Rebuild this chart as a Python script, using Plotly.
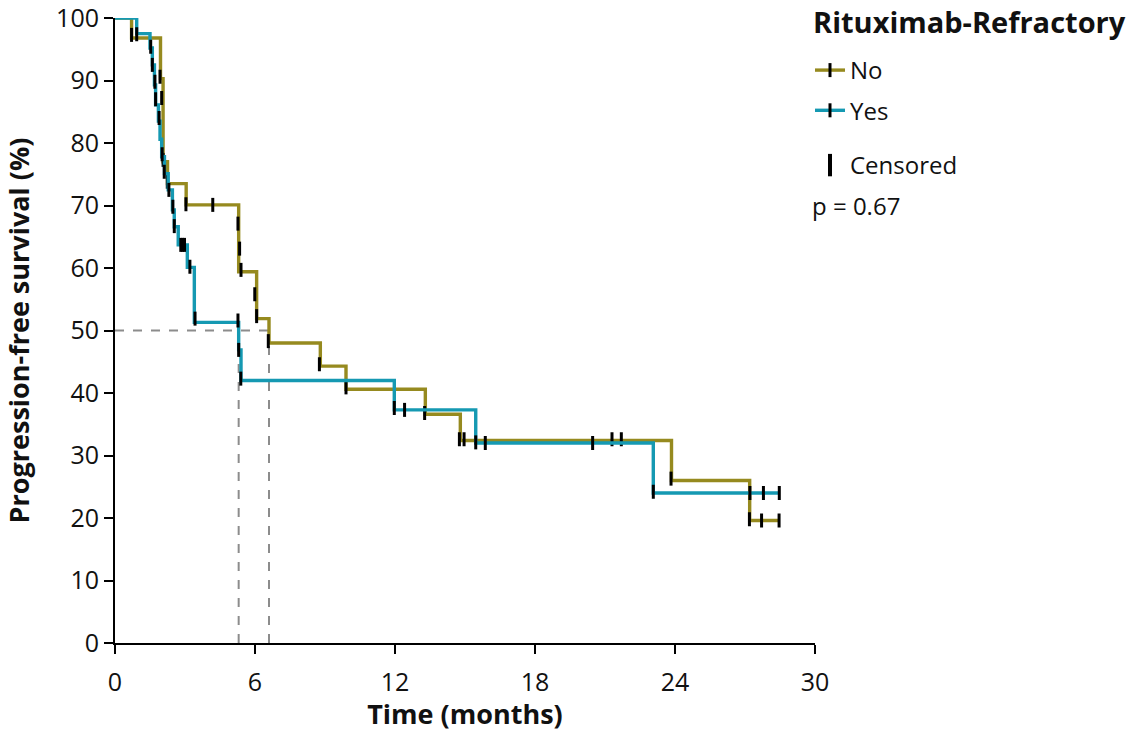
import plotly.graph_objects as go

# ---- data ----
no_times = [0, 0.71, 1.95, 2.06, 2.25, 3.05, 5.3, 6.07, 6.6, 8.8, 9.9, 13.3, 14.8, 23.85, 27.2, 28.5]
no_surv = [100, 96.8, 90.3, 77.0, 73.5, 70.1, 59.4, 51.9, 48.0, 44.3, 40.6, 36.6, 32.4, 26.0, 19.6, 19.6]

yes_times = [0, 0.93, 1.5, 1.6, 1.69, 1.74, 1.86, 1.93, 2.0, 2.12, 2.28, 2.46, 2.54, 2.71,
             3.1, 3.4, 5.3, 5.4, 11.97, 15.46, 23.07, 28.5]
yes_surv = [100, 97.5, 95.2, 92.5, 89.3, 86.1, 83.5, 80.6, 77.8, 75.1, 72.5, 69.3, 66.6, 63.7,
            60.1, 51.3, 46.9, 42.0, 37.3, 32.0, 24.0, 24.0]

no_cens_t = [0.71, 1.93, 2.0, 2.06, 2.24, 3.04, 4.19, 5.27, 5.34, 5.4, 5.99, 6.07, 6.57, 8.76,
             9.9, 13.27, 14.76, 14.96, 21.3, 21.7, 23.83, 27.19, 27.71, 28.46]
no_cens_s = [97.3, 90.6, 87.2, 77.3, 73.8, 70.2, 70.1, 67.1, 63.1, 59.7, 55.8, 52.3, 48.3, 44.6,
             40.9, 36.8, 32.6, 32.6, 32.6, 32.6, 26.3, 19.8, 19.6, 19.6]

yes_cens_t = [0.93, 1.53, 1.6, 1.71, 1.74, 1.89, 2.02, 2.11, 2.31, 2.48, 2.54, 2.82, 2.9, 2.98,
              3.21, 3.43, 5.27, 5.3, 5.39, 11.97, 12.41, 15.46, 15.87, 20.47, 23.07, 27.21,
              27.79, 28.47]
yes_cens_s = [97.4, 95.4, 92.5, 89.8, 87.0, 84.0, 78.2, 75.4, 72.5, 69.8, 66.7, 63.7, 63.7, 63.7,
              60.2, 51.9, 51.6, 46.9, 42.3, 37.6, 37.3, 32.1, 32.0, 32.0, 24.2, 24.0, 24.0, 24.0]

medians = {"No": 6.6, "Yes": 5.3}
x_ticks = [0, 6, 12, 18, 24, 30]
y_ticks = [0, 10, 20, 30, 40, 50, 60, 70, 80, 90, 100]

OLIVE = "#968a1f"
TEAL = "#1599b2"
FONT = "Open Sans"
TXT = "#111111"

L, R, T, B = 115, 815, 18, 643
W, H = 1135, 732


def py(p):  # pixel row -> paper y
    return (B - p) / (B - T)


def px(p):  # pixel col -> paper x
    return (p - L) / (R - L)


fig = go.Figure()

# median guide lines
mx = max(medians.values())
fig.add_shape(type="line", x0=0, x1=mx, y0=50, y1=50, xref="x", yref="y",
              line=dict(color="#8c8c8c", width=2, dash="dash"), layer="below")
for m in medians.values():
    fig.add_shape(type="line", x0=m, x1=m, y0=0, y1=50, xref="x", yref="y",
                  line=dict(color="#8c8c8c", width=2, dash="dash"), layer="below")

for name, t, s, ct, cs, col in [("No", no_times, no_surv, no_cens_t, no_cens_s, OLIVE),
                                ("Yes", yes_times, yes_surv, yes_cens_t, yes_cens_s, TEAL)]:
    fig.add_trace(go.Scatter(x=t, y=s, mode="lines", line=dict(color=col, width=3.4, shape="hv"),
                             showlegend=False, cliponaxis=False, hoverinfo="skip"))
    fig.add_trace(go.Scatter(x=ct, y=cs, mode="markers", showlegend=False, cliponaxis=False,
                             marker=dict(symbol="line-ns", size=10,
                                         line=dict(color="black", width=3))))
    # legend entry
    fig.add_trace(go.Scatter(x=[None], y=[None], mode="lines+markers", name=name,
                             legendgroup=name,
                             line=dict(color=col, width=3.4),
                             marker=dict(symbol="line-ns", size=10, color="black",
                                         line=dict(color="black", width=3))))

fig.add_trace(go.Scatter(x=[None], y=[None], mode="markers", name="Censored", legend="legend2",
                         marker=dict(symbol="line-ns", size=16, color="black",
                                     line=dict(color="black", width=4))))

fig.add_annotation(text="<b>Rituximab-Refractory</b>", xref="paper", yref="paper", x=px(811),
                   y=py(22), xanchor="left", yanchor="middle", showarrow=False,
                   font=dict(family=FONT, size=29, color=TXT))
fig.add_annotation(text="p = 0.67", xref="paper", yref="paper", x=px(810),
                   y=py(206), xanchor="left", yanchor="middle", showarrow=False,
                   font=dict(family=FONT, size=24, color=TXT))

fig.update_layout(
    width=W, height=H,
    margin=dict(l=L, r=W - R, t=T, b=H - B, autoexpand=False),
    paper_bgcolor="white", plot_bgcolor="white",
    font=dict(family=FONT, size=24, color=TXT),
    legend=dict(x=px(810), y=py(48), xanchor="left", yanchor="top",
                font=dict(size=24, family=FONT), tracegroupgap=6, bgcolor="rgba(0,0,0,0)"),
    legend2=dict(x=px(810), y=py(143), xanchor="left", yanchor="top",
                 font=dict(size=24, family=FONT), bgcolor="rgba(0,0,0,0)"),
    xaxis=dict(range=[0, 30], tickvals=x_ticks, ticks="outside", ticklen=9, tickwidth=1.5,
               tickcolor="black", ticklabelstandoff=7, ticklabeloverflow="allow",
               showline=True, linecolor="black", linewidth=2, showgrid=False, zeroline=False,
               tickfont=dict(size=25, family=FONT, color=TXT),
               title=dict(text="<b>Time (months)</b>", font=dict(size=27, family=FONT), standoff=27)),
    yaxis=dict(range=[0, 100], tickvals=y_ticks, ticks="outside", ticklen=9, tickwidth=1.5,
               tickcolor="black", ticklabeloverflow="allow",
               showline=True, linecolor="black", linewidth=2, showgrid=False, zeroline=False,
               tickfont=dict(size=25, family=FONT, color=TXT),
               title=dict(text="<b>Progression-free survival (%)</b>", font=dict(size=27, family=FONT),
                          standoff=28)),
)

fig.write_html("out.html")
